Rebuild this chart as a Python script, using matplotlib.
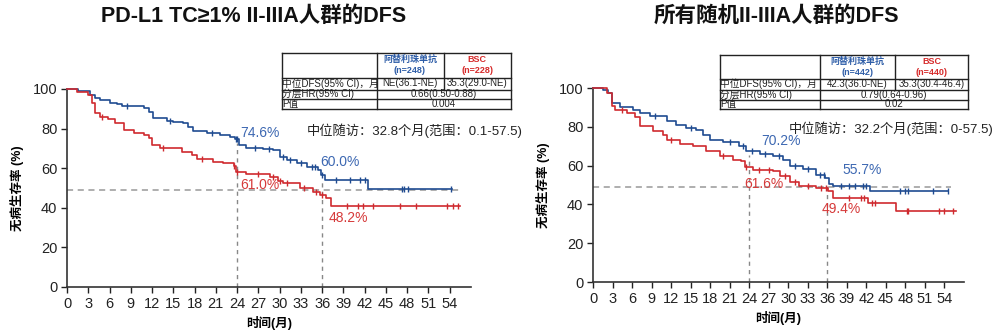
import matplotlib
matplotlib.use("Agg")
import matplotlib.pyplot as plt
import numpy as np

plt.rcParams['font.family'] = ['Liberation Sans', 'Noto Sans CJK SC', 'DejaVu Sans']

BLUE = '#1f4b91'
RED = '#cf2a2f'
BLUE_TXT = '#3d68b2'
RED_TXT = '#d63a3a'

# ---- data: PD-L1 TC>=1% ----
l_blue_t = [0, 1.5, 3.2, 4.0, 4.7, 6.1, 7.0, 7.7, 10.8, 11.5, 12.2, 14.1, 15.0, 16.4, 17.1, 17.8,
            19.7, 21.6, 23.0, 23.7, 24.2, 25.3, 27.7, 29.1, 30.0, 31.0, 32.4, 33.8, 35.4, 35.9,
            36.4, 42.4, 54.3]
l_blue_s = [100, 99, 97, 95.5, 94.4, 93.1, 92.3, 91.2, 90.6, 88.5, 85.5, 84, 83.2, 82.7, 81, 78.8,
            77.6, 76.8, 75.9, 74.6, 71.7, 70.4, 69.9, 69.2, 65.8, 64.1, 62.5, 60.4, 59.1, 56.6,
            54, 49.5, 49.5]
l_red_t = [0, 1.4, 3.0, 3.5, 3.9, 4.7, 5.8, 6.8, 8.0, 9.4, 10.8, 11.5, 12.0, 13.1, 16.2, 17.6,
           18.3, 20.6, 22.0, 23.5, 23.8, 25.3, 28.6, 29.8, 30.5, 32.9, 34.7, 35.7, 36.6, 37.2, 55.4]
l_red_s = [100, 98.7, 97, 92.8, 87.7, 86.1, 84.7, 82.7, 79.3, 77.6, 76.8, 75.1, 71.7, 70.4, 68.3, 66.7,
           64.5, 63.3, 62.5, 61.2, 58.3, 57, 55.7, 53.6, 52.4, 49.9, 48.2, 46.5, 44.9, 41, 41]
l_blue_cens = [8.5, 14.5, 20.5, 23.9, 24.0, 26.5, 28.5, 30.5, 31.5, 33.0, 34.5, 35.0, 36.0,
               38.0, 39.9, 41.3, 42.0, 47.2, 47.6, 48.1, 54.2]
l_red_cens = [5.0, 13.5, 19.0, 23.6, 24.0, 27.0, 29.0, 30.0, 31.0, 33.5, 35.2, 36.0,
              39.5, 41.1, 41.8, 43.2, 47.0, 49.3, 53.6, 54.5, 55.2]

# ---- data: all randomized II-IIIA ----
r_blue_t = [0, 1.6, 2.3, 2.9, 4.1, 6.2, 7.2, 8.7, 11.3, 12.8, 14.3, 15.9, 16.9, 17.9, 19.9, 22.5,
            23.5, 25.6, 27.6, 29.2, 30.2, 32.3, 34.3, 35.6, 36.3, 36.9, 42.5, 54.5]
r_blue_s = [100, 99.1, 97.4, 92.3, 90.2, 88.8, 87.1, 85.7, 82.8, 81.1, 79.4, 78.5, 75.9, 73.3, 72, 69.9,
            67.3, 66.1, 65.1, 63, 59.9, 58.2, 55.3, 53.6, 50.7, 49.3, 46.7, 46.7]
r_red_t = [0, 2.1, 2.9, 3.4, 5.2, 6.4, 7.2, 9.2, 10.7, 11.3, 13.3, 15.4, 17.4, 19.5, 21.5, 22.8,
           23.3, 24.6, 27.6, 28.7, 30.2, 31.7, 34.3, 36.1, 36.9, 42.3, 46.6, 55.8]
r_red_s = [100, 97.4, 90.6, 88.6, 87.1, 85.1, 80.2, 77.7, 75.9, 73.3, 71.3, 69.9, 67.3, 64.8, 63, 62.2,
           59.3, 57.9, 57, 54.4, 51.8, 49.6, 48.4, 46.7, 43.3, 40.7, 36.4, 36.4]
r_blue_cens = [9.5, 15.0, 21.0, 23.0, 24.5, 26.5, 28.5, 31.0, 33.0, 34.8, 35.5,
               38.1, 39.4, 40.2, 41.5, 42.0, 47.1, 47.9, 48.4, 52.2, 54.5]
r_red_cens = [4.5, 12.0, 20.0, 23.5, 25.5, 27.0, 29.5, 31.0, 33.0, 35.0, 35.8,
              39.4, 41.2, 41.7, 42.8, 43.3, 48.2, 48.4, 53.2, 54.0, 55.3]

x_ticks = list(range(0, 55, 3))
y_ticks = [0, 20, 40, 60, 80, 100]


def step_val(t, s, x):
    i = np.searchsorted(t, x, side='right') - 1
    return s[max(i, 0)]


def km_panel(ax, bt, bs, rt, rs, bc, rc, hline, vmarks, labels, follow):
    ax.step(bt, bs, where='post', color=BLUE, lw=1.2, clip_on=False, zorder=3)
    ax.step(rt, rs, where='post', color=RED, lw=1.2, clip_on=False, zorder=3)
    ax.plot(bc, [step_val(bt, bs, c) for c in bc], ls='none', marker='|', ms=4,
            mew=1.0, color=BLUE, zorder=4)
    ax.plot(rc, [step_val(rt, rs, c) for c in rc], ls='none', marker='|', ms=4,
            mew=1.0, color=RED, zorder=4)
    ax.plot([0, hline[1]], [hline[0], hline[0]], ls=(0, (4, 3)), color='#999999', lw=1.1, zorder=2)
    for vx in vmarks:
        ax.plot([vx, vx], [0, step_val(bt, bs, vx - 0.01) - 2], ls=(0, (3, 3)),
                color='#888888', lw=1.0, zorder=2)
    for (x, y, txt, c) in labels:
        ax.text(x, y, txt, color=c, fontsize=10, va='center', ha='left')
    ax.text(follow[0], 79, follow[1], fontsize=9.5, va='center', ha='left', color='#222222')
    ax.set_xlim(0, 57)
    ax.set_ylim(0, 100)
    ax.set_xticks(x_ticks)
    ax.set_yticks(y_ticks)
    ax.tick_params(direction='out', length=4, width=1, labelsize=10.5, colors='#222222', pad=3)
    for sp in ['top', 'right']:
        ax.spines[sp].set_visible(False)
    for sp in ['left', 'bottom']:
        ax.spines[sp].set_linewidth(1.2)
        ax.spines[sp].set_color('#333333')


def draw_table(fig, px, W, H, ns, rows):
    x0, x1, xa, xb = px[0], px[1], px[2], px[3]
    ys = px[4:]
    ax = fig.add_axes([0, 0, 1, 1])
    ax.set_xlim(0, W)
    ax.set_ylim(H, 0)
    ax.axis('off')
    kw = dict(color='#222222', lw=1.0)
    for y in ys:
        ax.plot([x0, x1], [y, y], **kw)
    ax.plot([x0, x0], [ys[0], ys[-1]], **kw)
    ax.plot([x1, x1], [ys[0], ys[-1]], **kw)
    ax.plot([xa, xa], [ys[0], ys[-1]], **kw)
    ax.plot([xb, xb], [ys[0], ys[2]], **kw)
    ym = (ys[0] + ys[1]) / 2
    ax.text((xa + xb) / 2, ym, '阿替利珠单抗\n(n=%d)' % ns[0], color='#2f5ea8', fontsize=6.5,
            fontweight='bold', ha='center', va='center', linespacing=1.3)
    ax.text((xb + x1) / 2, ym, 'BSC\n(n=%d)' % ns[1], color='#d62b2b', fontsize=6.5,
            fontweight='bold', ha='center', va='center', linespacing=1.3)
    for i, r in enumerate(rows):
        yc = (ys[i + 1] + ys[i + 2]) / 2
        ax.text(x0 + 1, yc, r[0], fontsize=7, ha='left', va='center', color='#222222')
        if len(r) == 3:
            ax.text((xa + xb) / 2, yc, r[1], fontsize=7, ha='center', va='center', color='#222222')
            ax.text((xb + x1) / 2, yc, r[2], fontsize=7, ha='center', va='center', color='#222222')
        else:
            ax.text((xa + x1) / 2, yc, r[1], fontsize=7, ha='center', va='center', color='#222222')


W, H = 1000, 332
fig = plt.figure(figsize=(10, 3.32), dpi=100)

ax1 = fig.add_axes([67 / W, 1 - 287 / H, 404 / W, 198 / H])
km_panel(ax1, l_blue_t, l_blue_s, l_red_t, l_red_s, l_blue_cens, l_red_cens,
         (49, 55.4), [24, 36],
         [(24.5, 78, '74.6%', BLUE_TXT), (35.7, 63, '60.0%', BLUE_TXT),
          (24.4, 51.5, '61.0%', RED_TXT), (36.9, 35, '48.2%', RED_TXT)],
         (33.8, '中位随访：32.8个月(范围：0.1-57.5)'))
ax1.set_ylabel('无病生存率 (%)', fontsize=9, fontweight='bold', labelpad=6)
ax1.set_xlabel('时间(月)', fontsize=9, fontweight='bold', labelpad=4)

ax2 = fig.add_axes([593 / W, 1 - 282 / H, 371 / W, 194 / H])
km_panel(ax2, r_blue_t, r_blue_s, r_red_t, r_red_s, r_blue_cens, r_red_cens,
         (48.8, 55), [24, 36],
         [(25.8, 72.7, '70.2%', BLUE_TXT), (38.3, 57.7, '55.7%', BLUE_TXT),
          (23.2, 50.5, '61.6%', RED_TXT), (35.2, 37.6, '49.4%', RED_TXT)],
         (30, '中位随访：32.2个月(范围：0-57.5)'))
ax2.set_ylabel('无病生存率 (%)', fontsize=9, fontweight='bold', labelpad=6)
ax2.set_xlabel('时间(月)', fontsize=9, fontweight='bold', labelpad=4)

fig.text(254 / W, 1 - 16 / H, 'PD-L1 TC≥1% II-IIIA人群的DFS', fontsize=15.5, fontweight='bold',
         ha='center', va='center', color='#111111')
fig.text(776 / W, 1 - 16 / H, '所有随机II-IIIA人群的DFS', fontsize=15.5, fontweight='bold',
         ha='center', va='center', color='#111111')

draw_table(fig, [281.5, 510.5, 376.5, 443.5, 53, 77.5, 89.5, 99, 108.5], W, H, (248, 228),
           [('中位DFS(95% CI)，月', 'NE(36.1-NE)', '35.3(29.0-NE)'),
            ('分层HR(95% CI)', '0.66(0.50-0.88)'),
            ('P值', '0.004')])
draw_table(fig, [719.5, 968, 820, 895, 55, 78.5, 89.5, 99.5, 108.5], W, H, (442, 440),
           [('中位DFS(95% CI)，月', '42.3(36.0-NE)', '35.3(30.4-46.4)'),
            ('分层HR(95% CI)', '0.79(0.64-0.96)'),
            ('P值', '0.02')])

fig.savefig('out.png', dpi=100, facecolor='white')
